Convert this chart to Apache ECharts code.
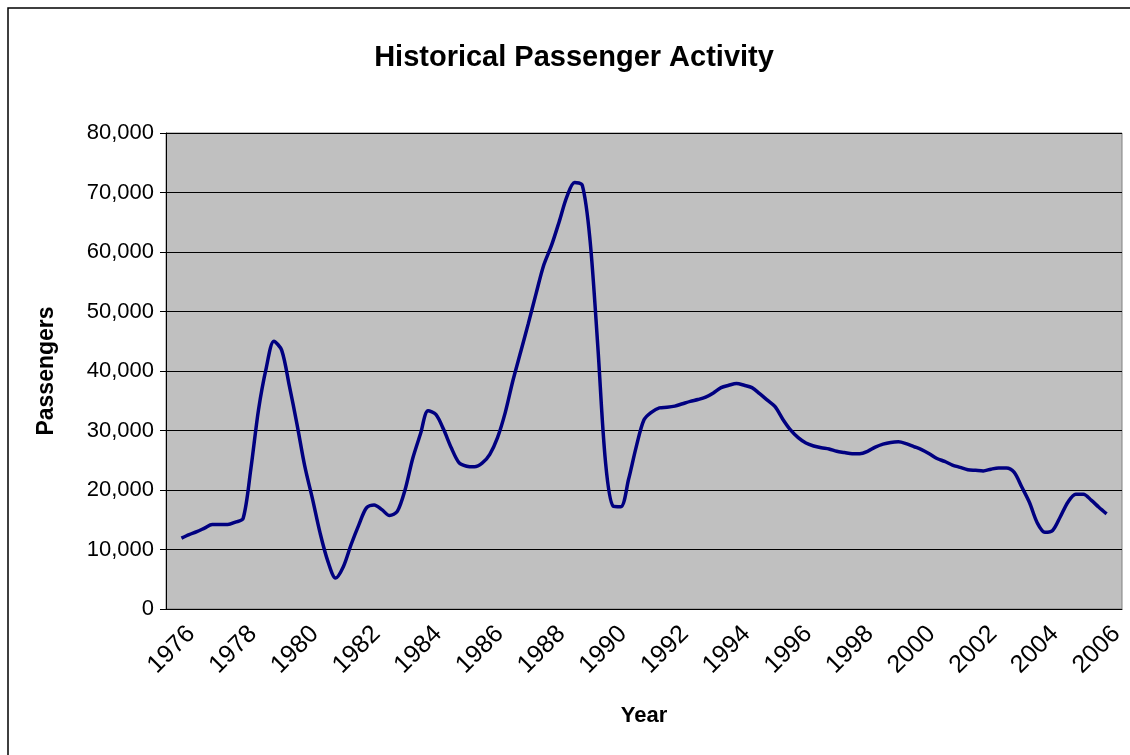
<!DOCTYPE html>
<html>
<head>
<meta charset="utf-8">
<title>Historical Passenger Activity</title>
<script src="https://cdn.jsdelivr.net/npm/echarts@6/dist/echarts.min.js"></script>
<style>
  html, body { margin: 0; padding: 0; background: #fff; }
  #chart { width: 1130px; height: 755px; }
</style>
</head>
<body>
<div id="chart"></div>
<script>
// category labels on the x axis (one band per year)
const years = ['1976', '1977', '1978', '1979', '1980', '1981', '1982', '1983', '1984', '1985',
  '1986', '1987', '1988', '1989', '1990', '1991', '1992', '1993', '1994', '1995',
  '1996', '1997', '1998', '1999', '2000', '2001', '2002', '2003', '2004', '2005', '2006'];

// quarterly sample times (mid-year 1976 .. mid-year 2006)
const times = [
  1976.5, 1976.75, 1977.0, 1977.25, 1977.5, 1977.75, 1978.0, 1978.25, 1978.5, 1978.75,
  1979.0, 1979.25, 1979.5, 1979.75, 1980.0, 1980.25, 1980.5, 1980.75, 1981.0, 1981.25,
  1981.5, 1981.75, 1982.0, 1982.25, 1982.5, 1982.75, 1983.0, 1983.25, 1983.5, 1983.75,
  1984.0, 1984.25, 1984.5, 1984.75, 1985.0, 1985.25, 1985.5, 1985.75, 1986.0, 1986.25,
  1986.5, 1986.75, 1987.0, 1987.25, 1987.5, 1987.75, 1988.0, 1988.25, 1988.5, 1988.75,
  1989.0, 1989.25, 1989.5, 1989.75, 1990.0, 1990.25, 1990.5, 1990.75, 1991.0, 1991.25,
  1991.5, 1991.75, 1992.0, 1992.25, 1992.5, 1992.75, 1993.0, 1993.25, 1993.5, 1993.75,
  1994.0, 1994.25, 1994.5, 1994.75, 1995.0, 1995.25, 1995.5, 1995.75, 1996.0, 1996.25,
  1996.5, 1996.75, 1997.0, 1997.25, 1997.5, 1997.75, 1998.0, 1998.25, 1998.5, 1998.75,
  1999.0, 1999.25, 1999.5, 1999.75, 2000.0, 2000.25, 2000.5, 2000.75, 2001.0, 2001.25,
  2001.5, 2001.75, 2002.0, 2002.25, 2002.5, 2002.75, 2003.0, 2003.25, 2003.5, 2003.75,
  2004.0, 2004.25, 2004.5, 2004.75, 2005.0, 2005.25, 2005.5, 2005.75, 2006.0, 2006.25,
  2006.5
];

const passengers = [
  11900, 12500, 13000, 13600, 14200, 14200, 14200, 14600, 15200, 23500,
  33500, 40500, 45000, 43500, 37500, 31000, 24000, 18500, 12700, 8000,
  5200, 7100, 10800, 14100, 17000, 17500, 16700, 15700, 16400, 20000,
  25300, 29400, 33300, 32700, 30200, 27100, 24600, 24000, 23900, 24500,
  26000, 28800, 33000, 38400, 43200, 48000, 53000, 57800, 61100, 65100,
  69300, 71700, 71200, 62000, 44300, 24800, 17300, 17200, 21800, 27300,
  31800, 33100, 33800, 33900, 34100, 34500, 34900, 35200, 35600, 36300,
  37200, 37600, 37900, 37600, 37200, 36200, 35100, 34000, 31900, 30100,
  28800, 27900, 27400, 27100, 26900, 26500, 26300, 26100, 26100, 26500,
  27200, 27700, 28000, 28100, 27800, 27300, 26800, 26100, 25300, 24800,
  24200, 23800, 23400, 23300, 23200, 23500, 23700, 23700, 23000, 20500,
  17900, 14500, 12900, 13200, 15500, 18000, 19300, 19300, 18300, 17100,
  16000
];

const chart = echarts.init(document.getElementById('chart'));

const font = '"Liberation Sans", Arial, sans-serif';
const seriesData = times.map((t, i) => [t, passengers[i]]);

const option = {
  backgroundColor: '#fff',
  animation: false,
  title: {
    text: 'Historical Passenger Activity',
    left: 569,
    textAlign: 'center',
    top: 38,
    textStyle: { fontFamily: font, fontSize: 29, fontWeight: 'bold', color: '#000' }
  },
  graphic: [
    {
      type: 'rect',
      shape: { x: 8, y: 8, width: 1140, height: 770 },
      style: { fill: 'none', stroke: '#000', lineWidth: 1.5 },
      silent: true
    }
  ],
  grid: {
    left: 166,
    right: 8,
    top: 133,
    bottom: 146,
    show: true,
    backgroundColor: '#c0c0c0',
    borderColor: '#808080',
    borderWidth: 1
  },
  xAxis: [
    {
      type: 'category',
      data: years,
      boundaryGap: true,
      name: 'Year',
      nameLocation: 'middle',
      nameGap: 96,
      nameTextStyle: { fontFamily: font, fontSize: 22, fontWeight: 'bold', color: '#000' },
      axisLine: { lineStyle: { color: '#000', width: 1 } },
      axisTick: { interval: 0, length: 6, lineStyle: { color: '#000' } },
      axisLabel: {
        interval: 1,
        rotate: 45,
        margin: 31,
        padding: [0, -14, 0, 0],
        fontFamily: font,
        fontSize: 25,
        color: '#000'
      },
      splitLine: { show: false }
    },
    {
      type: 'value',
      min: 1976,
      max: 2007,
      show: false
    }
  ],
  yAxis: {
    type: 'value',
    min: 0,
    max: 80000,
    interval: 10000,
    name: 'Passengers',
    nameLocation: 'middle',
    nameGap: 108,
    nameTextStyle: { fontFamily: font, fontSize: 23, fontWeight: 'bold', color: '#000' },
    axisLine: { show: true, lineStyle: { color: '#000', width: 1 } },
    axisTick: { show: true, length: 6, lineStyle: { color: '#000' } },
    axisLabel: {
      margin: 12,
      fontFamily: font,
      fontSize: 22,
      color: '#000',
      formatter: v => v.toLocaleString('en-US')
    },
    splitLine: { lineStyle: { color: '#000', width: 1 } }
  },
  series: [
    {
      type: 'line',
      xAxisIndex: 1,
      data: seriesData,
      smooth: 0.3,
      showSymbol: false,
      lineStyle: { color: '#000080', width: 3.5 },
      itemStyle: { color: '#000080' }
    }
  ]
};

chart.setOption(option);
</script>
</body>
</html>
